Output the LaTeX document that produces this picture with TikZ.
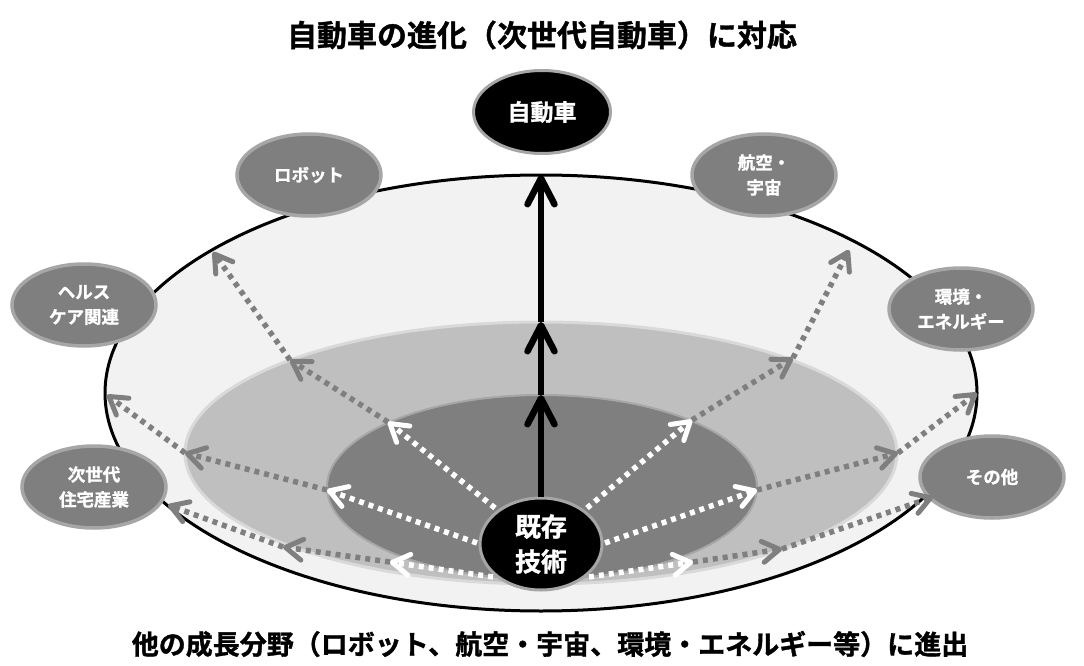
\documentclass[tikz,border=0pt]{standalone}
\usepackage{fontspec}
\setmainfont{Noto Sans CJK JP}
\newfontfamily\heavy{Noto Sans CJK JP Bold}[FakeBold=1.2]
\usetikzlibrary{shapes.geometric,arrows.meta}
\definecolor{g50}{HTML}{7F7F7F}
\definecolor{g65}{HTML}{A6A6A6}
\definecolor{g75}{HTML}{BFBFBF}
\definecolor{g85}{HTML}{D9D9D9}
\definecolor{g95}{HTML}{F2F2F2}
\begin{document}
\begin{tikzpicture}[x=1pt,y=-1pt,
  field/.style={ellipse, draw=g65, fill=g50, line width=3.5pt, minimum width=144pt, minimum height=82pt, inner sep=0pt, text=white, align=center, font=\heavy\fontsize{17.5}{25}\selectfont},
  blacknode/.style={ellipse, draw=g65, fill=black, line width=3pt, inner sep=0pt, text=white, align=center},
  wdot/.style={white, line width=5.5pt, dash pattern=on 5pt off 5pt, -{Straight Barb[length=17pt,width=21pt,line width=5pt,round]}},
  gdot/.style={g50, line width=5.5pt, dash pattern=on 5pt off 5pt, -{Straight Barb[length=17pt,width=21pt,line width=5pt,round]}},
  bline/.style={black, line width=6.5pt, -{Straight Barb[length=26pt,width=27pt,line width=6.5pt,round]}},
  titlefont/.style={font=\heavy\fontsize{#1}{#1}\selectfont, inner sep=0pt}
]
\useasboundingbox (0,0) rectangle (1084,666);
% rings
\node[ellipse, draw=black, fill=g95, line width=3pt, minimum width=872pt, minimum height=436pt, inner sep=0pt] (outer) at (541,393) {};
\node[ellipse, draw=g85, fill=g75, line width=3pt, minimum width=712pt, minimum height=262pt, inner sep=0pt] (middle) at (541,453) {};
\node[ellipse, draw=g65, fill=g50, line width=2pt, minimum width=430pt, minimum height=184pt, inner sep=0pt] (inner) at (542,487) {};

% field nodes
\node[blacknode, minimum width=137pt, minimum height=83pt, font=\heavy\fontsize{23}{28}\selectfont] (car) at (542,112) {自動車};
\node[field] (robot) at (309,175) {ロボット};
\node[field] (aero) at (764,175) {航空・\\宇宙};
\node[field] (health) at (84,305) {ヘルス\\ケア関連};
\node[field] (energy) at (961,309) {環境・\\エネルギー};
\node[field] (house) at (94,487) {次世代\\住宅産業};
\node[field] (other) at (992,477) {その他};
\node[blacknode, minimum width=122pt, minimum height=92pt, font=\heavy\fontsize{26}{35}\selectfont] (kt) at (541,544) {既存\\技術};

% coordinates
\coordinate (s1) at (495,508); \coordinate (i1) at (388,422); \coordinate (m1) at (290,360); \coordinate (o1) at (213,252);
\coordinate (s2) at (477,543); \coordinate (i2) at (327,490); \coordinate (m2) at (185,453); \coordinate (o2) at (107,395);
\coordinate (s3) at (493,577); \coordinate (i3) at (390,562); \coordinate (m3) at (283,547); \coordinate (o3) at (168,505);
\coordinate (s4) at (587,508); \coordinate (i4) at (692,420); \coordinate (m4) at (793,358); \coordinate (o4) at (849,250);
\coordinate (s5) at (605,543); \coordinate (i5) at (757,490); \coordinate (m5) at (898,453); \coordinate (o5) at (977,393);
\coordinate (s6) at (589,577); \coordinate (i6) at (693,562); \coordinate (m6) at (782,549); \coordinate (o6) at (933,497);
\coordinate (k1) at (541,395); \coordinate (k2) at (541,322); \coordinate (k3) at (541,175);

% dotted arrows
\foreach \n in {1,...,6}{
  \draw[wdot] (s\n) -- (i\n);
  \draw[gdot] (i\n) -- (m\n);
  \draw[gdot] (m\n) -- (o\n);
}
% black arrows
\draw[bline] (kt.north) -- (k1);
\draw[bline] (k1) -- (k2);
\draw[bline] (k2) -- (k3);

% titles
\node[titlefont=30] (top) at (542,35) {自動車の進化（次世代自動車）に対応};
\node[titlefont=27] (bottom) at (550,644) {他の成長分野（ロボット、航空・宇宙、環境・エネルギー等）に進出};
\end{tikzpicture}
\end{document}
